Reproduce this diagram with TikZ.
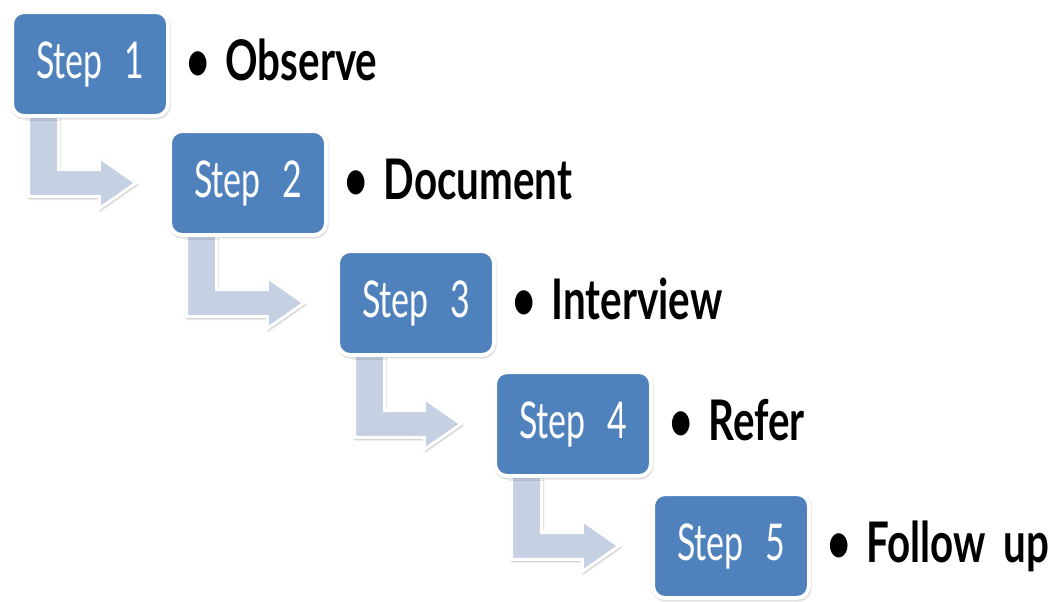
\documentclass[tikz,border=0pt]{standalone}
\usepackage{fontspec}
\usetikzlibrary{calc,shadows.blur}

% condensed humanist sans for the step boxes and their captions
\newfontfamily\stepfont[FakeStretch=0.67]{Lato}
\newfontfamily\labelfont[FakeStretch=0.72]{Lato}

\definecolor{stepblue}{RGB}{79,129,189}
\definecolor{arrowblue}{RGB}{197,208,227}

\pgfdeclarelayer{background}
\pgfsetlayers{background,main}

\tikzset{
  stepbox/.style={rectangle, rounded corners=9pt, fill=stepblue, draw=white,
    line width=3pt, minimum width=117pt, minimum height=78pt, inner sep=0pt,
    text=white, font=\stepfont\fontsize{38}{38}\selectfont,
    blur shadow={shadow xshift=0.4pt, shadow yshift=-0.9pt,
      shadow blur radius=2.2pt, shadow blur extra rounding=1.8pt,
      shadow opacity=60}},
  steplabel/.style={anchor=base west, inner sep=0pt, text=black,
    font=\labelfont\bfseries\fontsize{42}{42}\selectfont},
  bentarrow/.style={fill=arrowblue, draw=white, line width=2.25pt,
    line join=miter,
    blur shadow={shadow xshift=0.4pt, shadow yshift=-0.9pt,
      shadow blur radius=2pt, shadow opacity=50}},
}

% bent block arrow from the bottom of one step box to the left of the next
\newcommand\stepflow[2]{%
  \begin{pgfonlayer}{background}
    \path[bentarrow] let \p1=(#1.south west), \p2=(#2.west) in
      (\x1+13.9pt,\y1+8pt) -- (\x1+13.9pt,\y2-10.1pt)
      -- (\x2-51.4pt,\y2-10.1pt) -- (\x2-51.4pt,\y2-19.1pt)
      -- (\x2-24pt,\y2) -- (\x2-51.4pt,\y2+19.1pt)
      -- (\x2-51.4pt,\y2+10.1pt) -- (\x1+36.4pt,\y2+10.1pt)
      -- (\x1+36.4pt,\y1+8pt) -- cycle;
  \end{pgfonlayer}}

\newcommand\stepcaption[1]{\textbullet\hspace{12pt}#1}

\begin{document}
\begin{tikzpicture}[x=0.75pt,y=-0.75pt]
  \useasboundingbox (0,0) rectangle (1050,601);

  \node[stepbox] (s1) at (90,64)  {Step\hspace{16pt}1};
  \node[stepbox] (s2) at (248,183) {Step\hspace{16pt}2};
  \node[stepbox] (s3) at (416,303) {Step\hspace{16pt}3};
  \node[stepbox] (s4) at (573,424) {Step\hspace{16pt}4};
  \node[stepbox] (s5) at (731,546) {Step\hspace{16pt}5};

  \node[steplabel] (l1) at ($(s1.east)+(16,16)$) {\stepcaption{Observe}};
  \node[steplabel] (l2) at ($(s2.east)+(16,16)$) {\stepcaption{Document}};
  \node[steplabel] (l3) at ($(s3.east)+(16,16)$) {\stepcaption{Interview}};
  \node[steplabel] (l4) at ($(s4.east)+(16,16)$) {\stepcaption{Refer}};
  \node[steplabel] (l5) at ($(s5.east)+(16,16)$) {\stepcaption{Follow\hspace{6pt} up}};

  \stepflow{s1}{s2}
  \stepflow{s2}{s3}
  \stepflow{s3}{s4}
  \stepflow{s4}{s5}
\end{tikzpicture}
\end{document}
